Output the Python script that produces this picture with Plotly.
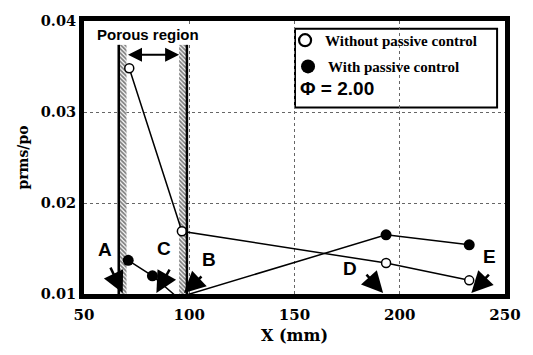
import plotly.graph_objects as go

# Axial position (mm) and rms pressure ratio for both configurations
x_without = [71.5, 96.5, 193.5, 233.0]
p_without = [0.0348, 0.0169, 0.0134, 0.0115]
x_with = [71.0, 82.5, 94.5, 193.5, 233.0]
p_with = [0.0137, 0.0120, 0.0096, 0.0165, 0.0154]

# Porous region boundaries (mm): each wall is a thin hatched strip
porous_walls = [(66.5, 70.2), (95.2, 98.9)]
porous_top = 0.0374
porous_arrow_y = 0.0363

# Measurement stations marked by arrows on the axis
station_labels = ["A", "C", "B", "D", "E"]
station_x = [68.4, 84.4, 97.5, 192.1, 234.0]
label_x = [59.9, 88.1, 109.3, 176.6, 242.5]
label_y = [0.0149, 0.0150, 0.0138, 0.0128, 0.0141]
arrow_tail = [(-13, -27), (14, -25), (19, -18), (-18, -20), (19, -20)]

x_ticks = [50, 100, 150, 200, 250]
y_ticks = [0.01, 0.02, 0.03, 0.04]
x_range = [50, 250]
y_range = [0.01, 0.04]

serif = "DejaVu Serif"
sans = "Liberation Sans"

fig = go.Figure()

# Hatched porous walls
for lo, hi in porous_walls:
    fig.add_trace(go.Bar(
        x=[(lo + hi) / 2], width=[hi - lo], base=[y_range[0]],
        y=[porous_top - y_range[0]],
        marker=dict(color="white",
                    pattern=dict(shape="\\", fgcolor="black", bgcolor="white",
                                 size=3, solidity=0.6),
                    line=dict(width=0)),
        showlegend=False, hoverinfo="skip"))

fig.add_trace(go.Scatter(
    x=x_without, y=p_without, mode="lines+markers",
    line=dict(color="black", width=1.5),
    marker=dict(symbol="circle", size=9, color="white",
                line=dict(color="black", width=1.5)),
    showlegend=False, cliponaxis=False))
fig.add_trace(go.Scatter(
    x=x_with, y=p_with, mode="lines+markers",
    line=dict(color="black", width=1.5),
    marker=dict(symbol="circle", size=11, color="black"),
    showlegend=False, cliponaxis=False))

# Legend entries
fig.add_trace(go.Scatter(
    x=[None], y=[None], mode="markers", name="Without passive control",
    marker=dict(symbol="circle", size=12, color="white",
                line=dict(color="black", width=2.2)),
    legend="legend"))
fig.add_trace(go.Scatter(
    x=[None], y=[None], mode="markers", name="With passive control",
    marker=dict(symbol="circle", size=14, color="black"),
    legend="legend2"))

shapes = []
# Solid outer edges of the porous walls
for xe in (porous_walls[0][0], porous_walls[1][1]):
    shapes.append(dict(type="line", xref="x", yref="y", x0=xe, x1=xe,
                       y0=y_range[0], y1=porous_top,
                       line=dict(color="black", width=2.5)))
# Legend frame
shapes.append(dict(type="rect", xref="paper", yref="paper",
                   x0=0.5012, x1=0.9812, y0=0.6833, y1=0.9715,
                   line=dict(color="black", width=2), fillcolor="white",
                   layer="below"))

annotations = []
# Extent of the porous region
annotations.append(dict(
    x=porous_walls[1][0], y=porous_arrow_y, ax=porous_walls[0][1],
    ay=porous_arrow_y, xref="x", yref="y", axref="x", ayref="y",
    text="", showarrow=True, arrowhead=2, arrowside="end+start",
    arrowsize=1.4, arrowwidth=2, arrowcolor="black"))
annotations.append(dict(
    x=80.5, y=0.0385, xref="x", yref="y", text="<b>Porous region</b>",
    showarrow=False, font=dict(family=sans, size=15, color="black"),
    bgcolor="white"))

for lab, sx, lx, ly, (tx, ty) in zip(station_labels, station_x, label_x,
                                     label_y, arrow_tail):
    annotations.append(dict(
        x=sx, y=0.0101, xref="x", yref="y", ax=tx, ay=ty, text="",
        showarrow=True, arrowhead=2, arrowsize=1.7, arrowwidth=2.5,
        arrowcolor="black"))
    annotations.append(dict(
        x=lx, y=ly, xref="x", yref="y", text=f"<b>{lab}</b>",
        showarrow=False, font=dict(family=sans, size=19, color="black")))

annotations.append(dict(
    x=0.508, y=0.7544, xref="paper", yref="paper", xanchor="left",
    yanchor="middle", text="<b>Φ = 2.00</b>", showarrow=False,
    font=dict(family=sans, size=19, color="black")))

legend_font = dict(family="Liberation Serif", size=15, color="black",
                   weight="bold")

fig.update_layout(
    width=533, height=355,
    margin=dict(l=84, r=24, t=13, b=61),
    paper_bgcolor="white", plot_bgcolor="white",
    barmode="overlay",
    shapes=shapes, annotations=annotations,
    legend=dict(x=0.4776, y=0.9288, xanchor="left", yanchor="middle",
                bgcolor="rgba(0,0,0,0)", borderwidth=0, font=legend_font,
                itemwidth=30),
    legend2=dict(x=0.4846, y=0.8327, xanchor="left", yanchor="middle",
                 bgcolor="rgba(0,0,0,0)", borderwidth=0, font=legend_font,
                 itemwidth=30),
    xaxis=dict(
        range=x_range, tickvals=x_ticks, ticktext=[str(v) for v in x_ticks],
        showline=True, mirror=True, linecolor="black", linewidth=5,
        showgrid=True, gridcolor="#666", griddash="dot", gridwidth=1,
        zeroline=False, ticks="", ticklabelstandoff=3, layer="below traces",
        tickfont=dict(family=serif, size=15, color="black", weight="bold"),
        title=dict(text="X (mm)", standoff=8,
                   font=dict(family=serif, size=16, color="black",
                             weight="bold"))),
    yaxis=dict(
        range=y_range, tickvals=y_ticks,
        ticktext=[f"{v:.2f}" for v in y_ticks],
        showline=True, mirror=True, linecolor="black", linewidth=5,
        showgrid=True, gridcolor="#666", griddash="dot", gridwidth=1,
        zeroline=False, ticks="", layer="below traces",
        tickfont=dict(family=serif, size=14.5, color="black", weight="bold"),
        title=dict(text="prms/po", standoff=10,
                   font=dict(family=serif, size=14, color="black",
                             weight="bold"))),
)

fig.write_html("out.html")
